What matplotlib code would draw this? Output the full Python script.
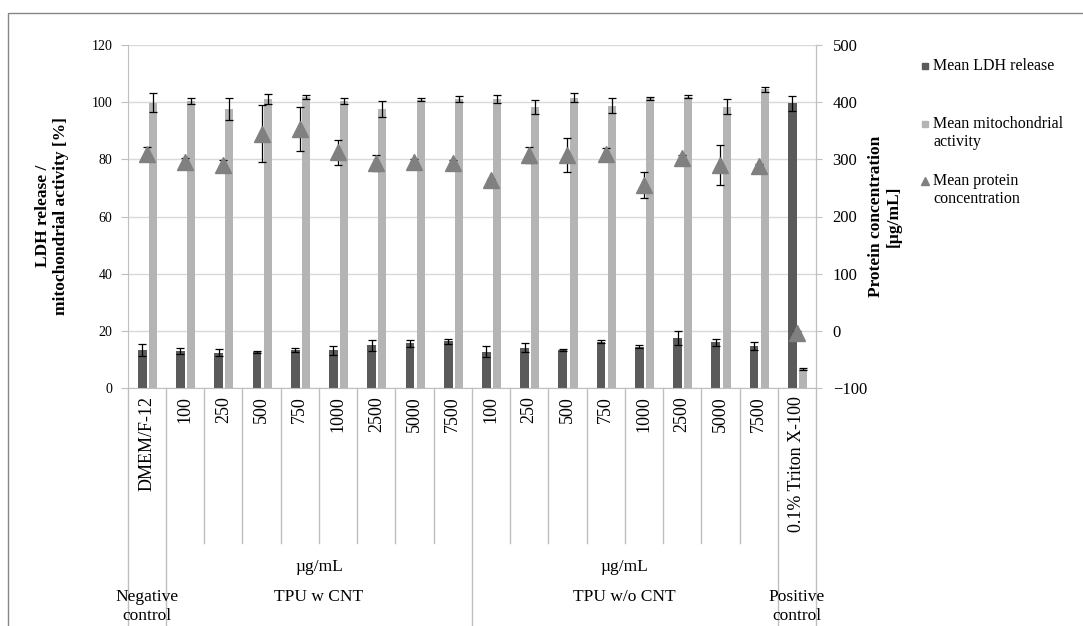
import numpy as np
import matplotlib.pyplot as plt
import matplotlib.transforms as mtransforms
from matplotlib.lines import Line2D
from matplotlib.patches import Rectangle

plt.rcParams['font.family'] = ['Liberation Serif', 'DejaVu Serif']

# categories (innermost level of the category axis)
labels = ['DMEM/F-12', '100', '250', '500', '750', '1000', '2500', '5000', '7500',
          '100', '250', '500', '750', '1000', '2500', '5000', '7500', '0.1% Triton X-100']
# outer levels: (first index, last index, unit label, group name)
groups = [(0, 0, '', 'Negative\ncontrol'),
          (1, 8, 'µg/mL', 'TPU w CNT'),
          (9, 16, 'µg/mL', 'TPU w/o CNT'),
          (17, 17, '', 'Positive\ncontrol')]

ldh = [13.3, 12.9, 12.4, 12.6, 13.2, 13.2, 14.9, 15.6, 16.4,
       12.7, 14.1, 13.3, 16.2, 14.5, 17.4, 16.0, 14.7, 99.6]
ldh_err = [2.0, 1.0, 1.2, 0.4, 0.7, 1.5, 1.9, 1.1, 0.9,
           2.0, 1.5, 0.5, 0.5, 0.4, 2.5, 1.3, 1.3, 2.7]
mito = [99.8, 100.4, 97.6, 101.1, 101.8, 100.5, 97.6, 100.8, 101.1,
        101.1, 98.4, 101.6, 98.8, 101.3, 101.9, 98.4, 104.5, 6.6]
mito_err = [3.3, 1.2, 4.0, 1.6, 0.7, 1.0, 2.8, 0.5, 1.0,
            1.3, 2.5, 1.5, 2.5, 0.4, 0.5, 2.7, 0.8, 0.3]
protein = [310, 295, 290, 345, 353, 312, 294, 296, 293,
           263, 308, 308, 309, 255, 303, 290, 288, -3]
protein_err = [12, 8, 8, 50, 38, 22, 14, 5, 5,
               3, 14, 30, 10, 23, 5, 35, 4, 3]

series = ['Mean LDH release', 'Mean mitochondrial\nactivity', 'Mean protein\nconcentration']
c_ldh, c_mito, c_prot = '#5a5a5a', '#b4b4b4', '#808080'
grey = '#bfbfbf'

W, H = 1083, 626
fig = plt.figure(figsize=(W / 100, H / 100), dpi=100)
ax = fig.add_axes([127.7 / W, 1 - 388 / H, (816 - 127.7) / W, 343 / H])
x = np.arange(len(labels))

ekw = dict(ecolor='black', elinewidth=0.9, capsize=2.8, capthick=0.9)
ax.bar(x - 0.12, ldh, 0.23, color=c_ldh, yerr=ldh_err, error_kw=ekw, zorder=2)
ax.bar(x + 0.16, mito, 0.21, color=c_mito, yerr=mito_err, error_kw=ekw, zorder=2)

ax.set_xlim(-0.5, len(labels) - 0.5)
ax.set_ylim(0, 120)
ax.set_yticks(np.arange(0, 121, 20))
ax.yaxis.grid(True, color='#d9d9d9', lw=1)
ax.set_axisbelow(True)
ax.tick_params(axis='y', direction='out', length=5, color=grey, labelsize=10, pad=6)
ax.set_xticks(x)
ax.set_xticklabels(labels, rotation=90, fontsize=13)
ax.tick_params(axis='x', length=0, pad=6)
ax.spines['top'].set_visible(False)
for s in ['left', 'right', 'bottom']:
    ax.spines[s].set_color(grey)

ax2 = ax.twinx()
ax2.set_ylim(-100, 500)
ax2.set_yticks(np.arange(-100, 501, 100))
ax2.tick_params(axis='y', direction='out', length=4, color=grey, labelsize=12, pad=8)
for s in ['top', 'left', 'bottom']:
    ax2.spines[s].set_visible(False)
ax2.spines['right'].set_color(grey)
ax2.errorbar(x, protein, yerr=protein_err, fmt='^', color=c_prot, ms=12,
             mec=c_prot, zorder=3, **ekw)

# multi-level category axis separators and labels
tr = mtransforms.blended_transform_factory(ax.transData, ax.transAxes)
short_y, long_y = -0.452, -0.75
bounds = set()
for first, last, unit, name in groups:
    bounds.add(first - 0.5)
    bounds.add(last + 0.5)
for b in np.arange(-0.5, len(labels), 1.0):
    yend = long_y if b in bounds else short_y
    ax.plot([b, b], [0, yend], color=grey, lw=1, transform=tr, clip_on=False)
for first, last, unit, name in groups:
    cx = (first + last) / 2
    if unit:
        ax.text(cx, -0.522, unit, transform=tr, ha='center', va='center', fontsize=12.5)
        ax.text(cx, -0.609, name, transform=tr, ha='center', va='center', fontsize=12.5)
    else:
        ax.text(cx, -0.585, name, transform=tr, ha='center', va='top', fontsize=12.5,
                linespacing=1.3)

# axis titles
fig.text(52 / W, 1 - 216 / H, 'LDH release /\nmitochondrial activity [%]', rotation=90,
         ha='center', va='center', fontsize=12.5, fontweight='bold', linespacing=1.1)
fig.text(885 / W, 1 - 216 / H, 'Protein concentration\n[µg/mL]', rotation=90,
         ha='center', va='center', fontsize=12.5, fontweight='bold', linespacing=1.15)

# legend
leg_y = [65, 123, 180]
handles = [('s', c_ldh, 5), ('s', c_mito, 5), ('^', c_prot, 6)]
for (m, c, ms), lab, yy in zip(handles, series, leg_y):
    fig.add_artist(Line2D([925 / W], [1 - (yy + 1) / H], marker=m, color=c, ms=ms, lw=0,
                          transform=fig.transFigure))
    fig.text(933 / W, 1 - (yy - 7) / H, lab, ha='left', va='top', fontsize=11.5,
             linespacing=1.15)

# chart border
fig.add_artist(Rectangle((8 / W, -0.1), 1.2, 1 - 13 / H + 0.1, transform=fig.transFigure,
                         fill=False, ec='#868686', lw=1))

fig.savefig('out.png', dpi=100)
